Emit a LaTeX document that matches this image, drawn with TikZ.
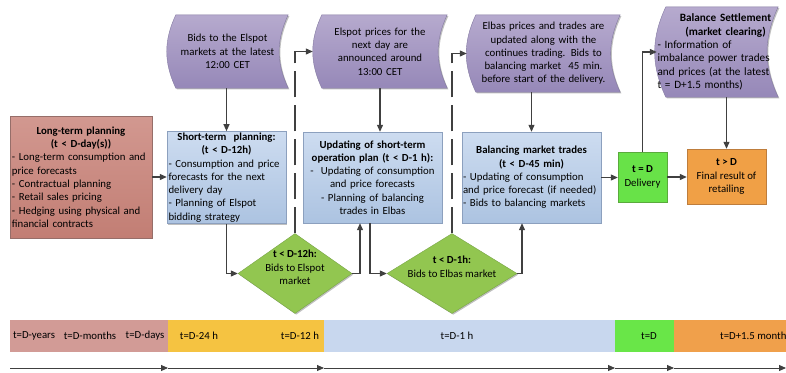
\documentclass[tikz,border=0pt]{standalone}
\usepackage{fontspec}
\setmainfont{Carlito}
\usetikzlibrary{shapes.geometric,arrows.meta,backgrounds,calc,shadows}

\definecolor{arrowgray}{RGB}{64,64,64}
\definecolor{pinkA}{RGB}{210,152,144}
\definecolor{pinkB}{RGB}{194,126,116}
\definecolor{pinkbd}{RGB}{150,110,105}
\definecolor{blueA}{RGB}{205,220,240}
\definecolor{blueB}{RGB}{172,195,225}
\definecolor{bluebd}{RGB}{140,160,190}
\definecolor{purpA}{RGB}{182,170,206}
\definecolor{purpB}{RGB}{150,136,184}
\definecolor{purpbd}{RGB}{130,120,160}
\definecolor{choicegreen}{RGB}{146,198,80}
\definecolor{greenbd}{RGB}{120,165,70}
\definecolor{delgreen}{RGB}{104,226,72}
\definecolor{delbd}{RGB}{90,170,60}
\definecolor{orangeF}{RGB}{240,160,70}
\definecolor{orangebd}{RGB}{190,125,60}
\definecolor{tlpink}{RGB}{210,155,150}
\definecolor{tlyellow}{RGB}{245,195,65}
\definecolor{tlblue}{RGB}{200,215,238}
\definecolor{tlgreen}{RGB}{105,230,72}
\definecolor{tlorange}{RGB}{240,160,75}

\newcommand\boxhead[1]{{\centering\bfseries #1\par}}

\begin{document}
\begin{tikzpicture}[x=1pt, y=-1pt,
  font=\fontsize{10.8}{13.3}\selectfont,
  link/.style={draw=arrowgray, line width=1.1pt, -{Triangle[length=7pt,width=6pt]}},
  dashlink/.style={link, dash pattern=on 26pt off 8pt},
  shade/.style={drop shadow={shadow xshift=1.2pt, shadow yshift=-1.2pt, opacity=0.25, fill=black}},
  plan/.style={draw=bluebd, top color=blueA, bottom color=blueB, shade, inner sep=1.5pt, align=left},
  tape/.style={inner sep=0pt, align=center},
  tapefill/.style={draw=purpbd, top color=purpA, bottom color=purpB, shade},
  choice/.style={diamond, draw=greenbd, fill=choicegreen, shade, inner sep=0pt},
  tick/.style={inner sep=0pt},
  tl/.style={draw=arrowgray, line width=0.9pt, -{Triangle[length=7pt,width=6pt]}}]
  \useasboundingbox (0,0) rectangle (786,372);

  % planning boxes
  \node[plan, draw=pinkbd, top color=pinkA, bottom color=pinkB, minimum width=142pt, minimum height=122pt, text width=138pt] (lt) at (81,177)
    {\boxhead{Long-term planning\\(t < D-day(s))}- Long-term consumption and\\price forecasts\\- Contractual planning\\- Retail sales pricing\\- Hedging using physical and\\financial contracts};
  \node[plan, minimum width=119pt, minimum height=91pt, text width=116pt] (st) at (226.5,177.5)
    {\boxhead{Short-term\ \ planning:\\(t < D-12h)}- Consumption and price\\forecasts for the next\\delivery day\\- Planning of Elspot\\bidding strategy};
  \node[plan, align=center, minimum width=139pt, minimum height=91pt, text width=136pt] (up) at (372.5,177.5)
    {\textbf{Updating of short-term}\\\textbf{operation plan (t < D-1 h):}\\-\ \ Updating of consumption\\and price forecasts\\- Planning of balancing\\trades in Elbas};
  \node[plan, minimum width=139pt, minimum height=91pt, text width=137pt, inner sep=1pt] (bal) at (531.5,177.5)
    {\boxhead{Balancing market trades\\(t < D-45 min)}- Updating of consumption\\and price forecast (if needed)\\- Bids to balancing markets};
  \node[draw=delbd, fill=delgreen, shade, align=center, minimum width=49pt, minimum height=50pt] (del) at (642.5,177)
    {\textbf{t = D}\\Delivery};
  \node[draw=orangebd, fill=orangeF, shade, align=center, minimum width=79pt, minimum height=55pt] (tD) at (726.5,176.5)
    {\textbf{t > D}\\Final result of\\retailing};

  % market information
  \node[tape, minimum width=121pt, minimum height=73pt, text width=114pt] (p1) at (227.5,51.5)
    {Bids to the Elspot\\markets at the latest\\12:00 CET};
  \node[tape, minimum width=134pt, minimum height=73pt, text width=118pt] (p2) at (380,51.5)
    {Elspot prices for the\\next day are\\announced around\\13:00 CET};
  \node[tape, minimum width=153pt, minimum height=77pt, text width=145pt] (p3) at (543.5,53.5)
    {Elbas prices and trades are\\updated along with the\\continues trading. Bids to\\balancing market\ \ 45 min.\\before start of the delivery.};
  \node[tape, align=left, minimum width=121pt, minimum height=90pt, text width=120pt, font=\fontsize{11.2}{13.3}\selectfont] (p4) at (717.5,52)
    {\boxhead{\hspace*{16pt}Balance Settlement\\\hspace*{16pt}(market clearing)}- Information of\\imbalance power trades\\and prices (at the latest\\t = D+1.5 months)};
  \begin{scope}[on background layer]
    \foreach \n in {p1,p2,p3,p4}
      \draw[tapefill] ($(\n.north west)+(9,0)$) -- (\n.north east) to[bend right=25] (\n.south east)
        -- ($(\n.south west)+(9,0)$) to[bend left=25] ($(\n.north west)+(9,0)$) -- cycle;
  \end{scope}

  % bids
  \node[choice, minimum width=114pt, minimum height=80pt] (d1) at (295,273.5)
    {\makebox[0pt]{\raisebox{2.3pt}[0pt][0pt]{\begin{tabular}{@{}c@{}}\textbf{t < D-12h:}\\Bids to Elspot\\market\end{tabular}}}};
  \node[choice, minimum width=130pt, minimum height=80pt] (d2) at (452,273.5)
    {\makebox[0pt]{\raisebox{2.8pt}[0pt][0pt]{\begin{tabular}{@{}c@{}}\textbf{t < D-1h:}\\Bids to Elbas market\end{tabular}}}};

  \draw[link] (lt.east) -- (lt.east -| st.west);
  \draw[link] (st.north |- p1.south) -- (st.north);
  \draw[link] (p2.south) -- (p2.south |- up.north);
  \draw[link] (bal.north |- p3.south) -- (bal.north);
  \draw[link] (tD.north |- p4.south) -- (tD.north);
  \draw[link] (st.south) |- (d1.west);
  \draw[link] (d1.east) -| ([xshift=-12.5pt]up.south);
  \draw[link] ([xshift=-2.5pt]up.south) |- (d2.west);
  \draw[link] (d2.east) -| ([xshift=-9.5pt]bal.south);
  \draw[link] (bal.east) -- (bal.east -| del.west);
  \draw[link] (del.east) -- (del.east -| tD.west);
  \draw[link] (del.north) |- (p4.west);
  \draw[dashlink] (d1.north) |- (p2.west);
  \draw[dashlink] (d2.north) |- (p3.west);

  % time line
  \fill[tlpink] (10,320) rectangle (168,352);
  \fill[tlyellow] (168,320) rectangle (324,352);
  \fill[tlblue] (324,320) rectangle (615,352);
  \fill[tlgreen] (615,320) rectangle (674,352);
  \fill[tlorange] (674,320) rectangle (790,352);
  \node[tick] (ty) at (34,336) {t=D-years};
  \node[tick] (tm) at (90,336) {t=D-months};
  \node[tick] (td) at (145,336) {t=D-days};
  \node[tick] (t24) at (199,336) {t=D-24 h};
  \node[tick] (t12) at (300,336) {t=D-12 h};
  \node[tick] (t1h) at (457,336) {t=D-1 h};
  \node[tick] (t0) at (649,336) {t=D};
  \node[tick, anchor=west] (tp) at (720,336) {t=D+1.5 months};
  \foreach \x [count=\i] in {10,168,324,615,674,786}
    \coordinate (m\i) at (\x,368);
  \foreach \i [evaluate=\i as \j using int(\i+1)] in {1,...,5}
    \draw[tl] (m\i) -- (m\j);
\end{tikzpicture}
\end{document}
